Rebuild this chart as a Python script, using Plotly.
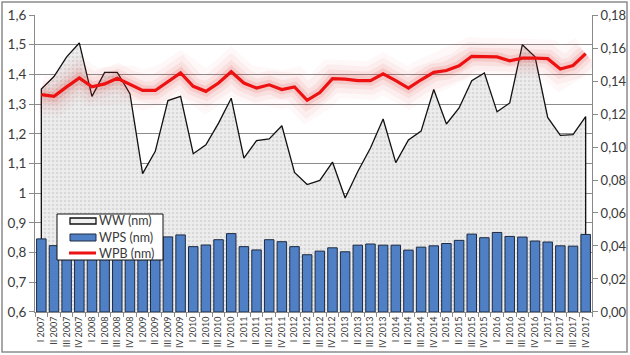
import plotly.graph_objects as go

categories = [
    "I 2007", "II 2007", "III 2007", "IV 2007",
    "I 2008", "II 2008", "III 2008", "IV 2008",
    "I 2009", "II 2009", "III 2009", "IV 2009",
    "I 2010", "II 2010", "III 2010", "IV 2010",
    "I 2011", "II 2011", "III 2011", "IV 2011",
    "I 2012", "II 2012", "III 2012", "IV 2012",
    "I 2013", "II 2013", "III 2013", "IV 2013",
    "I 2014", "II 2014", "III 2014", "IV 2014",
    "I 2015", "II 2015", "III 2015", "IV 2015",
    "I 2016", "II 2016", "III 2016", "IV 2016",
    "I 2017", "II 2017", "III 2017", "IV 2017",
]

ww = [1.351, 1.393, 1.459, 1.506, 1.326, 1.407, 1.407, 1.335,
      1.066, 1.141, 1.312, 1.326, 1.133, 1.163, 1.236, 1.320,
      1.118, 1.177, 1.183, 1.227, 1.070, 1.029, 1.043, 1.105,
      0.984, 1.073, 1.152, 1.250, 1.103, 1.179, 1.209, 1.349,
      1.233, 1.287, 1.379, 1.405, 1.274, 1.304, 1.500, 1.459,
      1.255, 1.195, 1.197, 1.258]

wpb = [1.332, 1.326, 1.358, 1.388, 1.358, 1.368, 1.387, 1.365,
       1.346, 1.346, 1.376, 1.405, 1.360, 1.343, 1.371, 1.409,
       1.371, 1.354, 1.365, 1.349, 1.358, 1.313, 1.339, 1.386,
       1.384, 1.379, 1.379, 1.402, 1.379, 1.354, 1.382, 1.407,
       1.413, 1.429, 1.461, 1.459, 1.459, 1.446, 1.455, 1.455,
       1.453, 1.418, 1.430, 1.470]

wps = [0.0443, 0.0402, 0.0420, 0.0440, 0.0410, 0.0430, 0.0450, 0.0440,
       0.0400, 0.0420, 0.0455, 0.0467, 0.0396, 0.0406, 0.0438, 0.0475,
       0.0396, 0.0376, 0.0438, 0.0426, 0.0396, 0.0347, 0.0369, 0.0389,
       0.0365, 0.0405, 0.0412, 0.0405, 0.0405, 0.0375, 0.0393, 0.0401,
       0.0415, 0.0434, 0.0472, 0.0450, 0.0482, 0.0458, 0.0454, 0.0430,
       0.0424, 0.0401, 0.0399, 0.0470]

series_names = ["WW (nm)", "WPS (nm)", "WPB (nm)"]

left_range = [0.6, 1.6]
right_range = [0.0, 0.18]

FONT = "Lato, Liberation Sans, sans-serif"
TXT = "#3a3a3a"
AXC = "#8a8a8a"
RED = "#ee1111"
BLUE = "#4f80c6"
BAR_EDGE = "#1e2a40"

fig = go.Figure()

# WW area (closed down to the axis minimum)
fig.add_trace(go.Scatter(
    x=[categories[0]] + categories + [categories[-1]],
    y=[left_range[0]] + ww + [left_range[0]],
    mode="lines", fill="toself", name=series_names[0],
    line=dict(color="#111111", width=1.3),
    fillcolor="#ebebeb",
    fillpattern=dict(shape=".", fgcolor="#c4c4c4", bgcolor="#ededed",
                     size=4, solidity=0.35),
    hoverinfo="skip",
))

# glow around WPB
for w, a in [(38, 0.035), (28, 0.05), (18, 0.08), (10, 0.12)]:
    fig.add_trace(go.Scatter(
        x=categories, y=wpb, mode="lines",
        line=dict(color=f"rgba(225,50,50,{a})", width=w),
        hoverinfo="skip",
    ))

fig.add_trace(go.Scatter(
    x=categories, y=wpb, mode="lines", name=series_names[2],
    line=dict(color=RED, width=3.2),
))

fig.add_trace(go.Bar(
    x=categories, y=wps, name=series_names[1], yaxis="y2",
    marker=dict(color=BLUE, line=dict(color=BAR_EDGE, width=1)),
))

plot_l, plot_r, plot_t, plot_b = 35, 592, 15, 312
W, H = 630, 355
pw, ph = plot_r - plot_l, plot_b - plot_t


def px(x):
    return (x - plot_l) / pw


def py(y):
    return (plot_b - y) / ph


# compact legend box (as in the reference)
shapes = [
    dict(type="rect", xref="paper", yref="paper",
         x0=px(2), x1=px(627), y0=py(352), y1=py(2),
         line=dict(color="#8c8c8c", width=1.5), layer="below"),
    dict(type="rect", xref="paper", yref="paper",
         x0=px(57), x1=px(163), y0=py(260), y1=py(214),
         line=dict(color="#111111", width=1), fillcolor="white"),
    dict(type="rect", xref="paper", yref="paper",
         x0=px(70), x1=px(96), y0=py(224), y1=py(218),
         line=dict(color="#111111", width=1.3), fillcolor="#f0f0f0"),
    dict(type="rect", xref="paper", yref="paper",
         x0=px(70), x1=px(96), y0=py(241), y1=py(234),
         line=dict(color=BAR_EDGE, width=1), fillcolor=BLUE),
    dict(type="line", xref="paper", yref="paper",
         x0=px(69), x1=px(96), y0=py(253), y1=py(253),
         line=dict(color=RED, width=3)),
]
annotations = []
for name, yc in zip(series_names, [221, 237.5, 253]):
    annotations.append(dict(
        text=name, xref="paper", yref="paper", x=px(97), y=py(yc),
        xanchor="left", yanchor="middle", showarrow=False,
        font=dict(size=12.5, color=TXT, family=FONT),
    ))

fig.update_layout(
    width=W, height=H,
    margin=dict(l=plot_l, r=W - plot_r, t=plot_t, b=H - plot_b, autoexpand=False),
    paper_bgcolor="white", plot_bgcolor="white",
    separators=", ",
    font=dict(family=FONT, color=TXT, size=13),
    bargap=0.25,
    showlegend=False,
    xaxis=dict(
        type="category", tickangle=-90, tickfont=dict(size=9),
        ticks="outside", tickson="boundaries", ticklen=4, tickcolor=AXC,
        showline=True, linecolor=AXC, linewidth=1, showgrid=False,
        range=[-0.5, len(categories) - 0.5],
    ),
    yaxis=dict(
        range=[left_range[0] - 0.0001, left_range[1] + 0.0001],
        tick0=0.6, dtick=0.1,
        ticks="outside", ticklen=5, tickcolor=AXC,
        showline=True, linecolor=AXC, linewidth=1,
        showgrid=True, gridcolor="#8c8c8c", gridwidth=1,
        zeroline=False, tickfont=dict(size=13.5),
    ),
    yaxis2=dict(
        range=[right_range[0] - 0.00002, right_range[1] + 0.00002],
        tick0=0, dtick=0.02, tickformat=".2f",
        overlaying="y", side="right",
        ticks="outside", ticklen=5, tickcolor=AXC,
        showline=True, linecolor=AXC, linewidth=1,
        showgrid=False, zeroline=False, tickfont=dict(size=13),
    ),
    shapes=shapes,
    annotations=annotations,
)

fig.write_html("out.html", config={"displayModeBar": False},
               post_script="document.body.style.margin='0';")
